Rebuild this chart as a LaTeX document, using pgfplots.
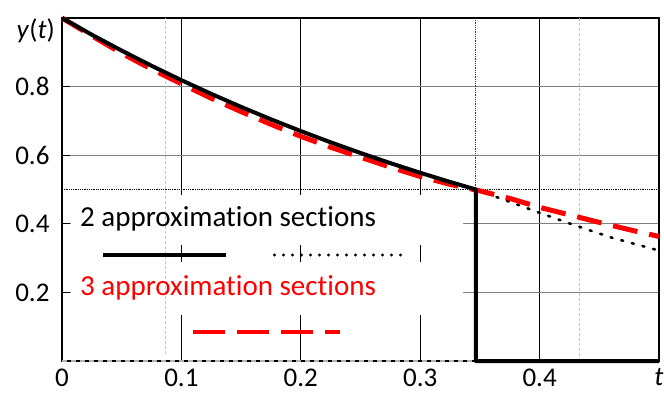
\documentclass[border=0pt]{standalone}
\usepackage{fontspec}
\setmainfont{Carlito}[RawFeature={-liga}]
\usepackage{pgfplots}
\pgfplotsset{compat=1.18}

\begin{document}
\begin{tikzpicture}
\begin{axis}[
  name=ax,
  scale only axis,
  width=597pt, height=343pt,
  xmin=0, xmax=0.5, ymin=0, ymax=1,
  xtick={0,0.1,0.2,0.3,0.4,0.5},
  xticklabels={0,0.1,0.2,0.3,0.4,\textit{t}},
  ytick={0.2,0.4,0.6,0.8},
  yticklabels={0.2,0.4,0.6,0.8},
  tick align=inside, tick pos=left, major tick length=8pt,
  tick style={black, line width=0.8pt},
  grid=major,
  x grid style={black, line width=0.8pt},
  y grid style={gray, line width=1.2pt},
  axis line style={black, line width=1.8pt},
  ticklabel style={font=\fontsize{27}{32}\selectfont},
  xticklabel style={yshift=-4pt},
  yticklabel style={xshift=-9pt},
  clip=false,
]
% white text boxes that hide the grid behind the legend
\fill[white] (axis cs:0.0075,0.338) rectangle (axis cs:0.336,0.484);
\fill[white] (axis cs:0.0075,0.134) rectangle (axis cs:0.336,0.289);

% section markers
\addplot[gray!45, line width=0.8pt, densely dashed] coordinates {(0.0866,0.02) (0.0866,1)};
\addplot[gray!45, line width=0.8pt, densely dashed] coordinates {(0.4332,0) (0.4332,1)};
\addplot[black, line width=0.8pt, densely dotted] coordinates {(0,0.5) (0.5,0.5)};
\addplot[black!80, line width=0.8pt, densely dotted] coordinates {(0.3466,1) (0.3466,0.5)};
\addplot[gray!60, line width=2pt, dash pattern=on 5pt off 4pt] coordinates {(0,0) (0.3466,0)};

% 2 sections: continuation of the first section
\addplot[black, line width=2.6pt, line cap=round, dash pattern=on 2pt off 9pt]
  coordinates {(0.3466,0.5) (0.375,0.464) (0.4,0.432) (0.43,0.395) (0.46,0.36) (0.5,0.322)};

% 3 approximation sections
\addplot[red, line width=5pt, dash pattern=on 25pt off 12pt]
  coordinates {(0,1.0) (0.025,0.948) (0.05,0.897) (0.075,0.851) (0.1,0.808)
    (0.125,0.766) (0.15,0.727) (0.175,0.690) (0.2,0.655) (0.225,0.623)
    (0.25,0.594) (0.275,0.565) (0.3,0.538) (0.325,0.515) (0.35,0.496)
    (0.375,0.474) (0.4,0.448) (0.425,0.426) (0.45,0.404) (0.475,0.383) (0.5,0.363)};

% 2 approximation sections
\addplot[black, line width=4pt, line join=round]
  coordinates {(0,1) (0.025,0.9512) (0.05,0.9048) (0.075,0.8607) (0.1,0.8187)
    (0.125,0.7788) (0.15,0.7408) (0.175,0.7047) (0.2,0.6703) (0.225,0.6376)
    (0.25,0.6065) (0.275,0.5769) (0.3,0.5488) (0.325,0.5220) (0.3466,0.5)
    (0.3466,0) (0.5,0)};

% legend
\node[anchor=base west, inner sep=0pt, font=\fontsize{29}{34}\selectfont]
  at (axis cs:0.0151,0.391) {2 approximation sections};
\draw[black, line width=4pt] (axis cs:0.034,0.309) -- (axis cs:0.137,0.309);
\draw[black, line width=3.2pt, line cap=round, dash pattern=on 0pt off 9pt]
  (axis cs:0.178,0.309) -- (axis cs:0.284,0.309);
\node[anchor=base west, inner sep=0pt, text=red, font=\fontsize{29}{34}\selectfont]
  at (axis cs:0.0151,0.19) {3 approximation sections};
\draw[red, line width=4.5pt, dash pattern=on 32pt off 12pt]
  (axis cs:0.110,0.0845) -- (axis cs:0.233,0.0845);

\node[anchor=east, inner sep=0pt, font=\fontsize{27}{32}\selectfont]
  at ([xshift=-7pt]axis cs:0,0.962) {\textit{y}(\textit{t})};
\end{axis}
\pgfresetboundingbox
\path ([shift={(-62pt,-33pt)}]ax.south west) rectangle ([shift={(5pt,18pt)}]ax.north east);
\end{tikzpicture}
\end{document}
